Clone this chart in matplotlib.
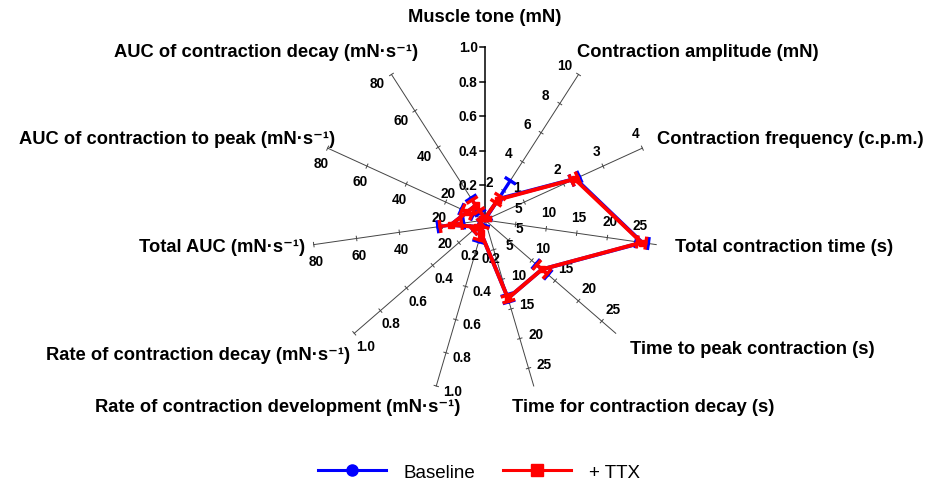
import numpy as np
import matplotlib
matplotlib.use("Agg")
import matplotlib.pyplot as plt
from matplotlib.lines import Line2D

plt.rcParams['font.family'] = ['Liberation Sans', 'DejaVu Sans']

# ---- data ----
categories = [
    "Muscle tone (mN)",
    "Contraction amplitude (mN)",
    "Contraction frequency (c.p.m.)",
    "Total contraction time (s)",
    "Time to peak contraction (s)",
    "Time for contraction decay (s)",
    "Rate of contraction development (mN\u00b7s\u207b\u00b9)",
    "Rate of contraction decay (mN\u00b7s\u207b\u00b9)",
    "Total AUC (mN\u00b7s\u207b\u00b9)",
    "AUC of contraction to peak (mN\u00b7s\u207b\u00b9)",
    "AUC of contraction decay (mN\u00b7s\u207b\u00b9)",
]
axis_max = [1.0, 10, 4, 28, 28, 28, 1.0, 1.0, 80, 80, 80]
axis_ticks = [
    [0.2, 0.4, 0.6, 0.8, 1.0],
    [2, 4, 6, 8, 10],
    [1, 2, 3, 4],
    [5, 10, 15, 20, 25],
    [5, 10, 15, 20, 25],
    [5, 10, 15, 20, 25],
    [0.2, 0.4, 0.6, 0.8, 1.0],
    [0.2, 0.4, 0.6, 0.8, 1.0],
    [20, 40, 60, 80],
    [20, 40, 60, 80],
    [20, 40, 60, 80],
]
baseline_mean = [0.01, 1.45, 2.3, 25.7, 12.2, 13.2, 0.08, 0.06, 16, 9, 8]
baseline_err = [0.01, 1.25, 0.1, 1.0, 1.3, 0.6, 0.05, 0.03, 6, 3, 4]
ttx_mean = [0.01, 1.4, 2.28, 25.6, 12.2, 13.2, 0.08, 0.06, 16, 9, 8]
ttx_err = [0.01, 0.22, 0.08, 0.7, 1.1, 0.5, 0.04, 0.03, 5, 2.5, 3]

# ---- layout: 1 data unit = axis length (173 px), centre at (485, 221) px ----
W, H = 926, 485
CX, CY, L = 485, 221, 173.0


def px(x, y):
    return (x - CX) / L, (CY - y) / L


# category label anchors in pixels (x, y, ha)
label_pos = [
    (485, 17, 'center'),
    (577, 52, 'left'),
    (657, 140, 'left'),
    (675, 247, 'left'),
    (630, 350, 'left'),
    (512, 408, 'left'),
    (460, 408, 'right'),
    (350, 355, 'right'),
    (305, 247, 'right'),
    (335, 139, 'right'),
    (418, 52, 'right'),
]

n = len(categories)
theta = np.deg2rad(90 - np.arange(n) * 360.0 / n)
ux, uy = np.cos(theta), np.sin(theta)
pxv, pyv = -np.sin(theta), np.cos(theta)

fig = plt.figure(figsize=(W / 100, H / 100), dpi=100)
ax = fig.add_axes([0, 0, 1, 1])
x0, y1 = px(0, 0)
x1, y0 = px(W, H)
ax.set_xlim(x0, x1)
ax.set_ylim(y0, y1)
ax.set_aspect('equal')
ax.axis('off')

# spokes, ticks, tick labels
for k in range(n):
    if k == 0:
        ax.plot([0, 0], [0, 1], color='black', lw=1.1, zorder=1)
    else:
        ax.plot([0, ux[k]], [0, uy[k]], color='#444444', lw=0.7, zorder=1)
    for t in axis_ticks[k]:
        r = t / axis_max[k]
        bx, by = r * ux[k], r * uy[k]
        if k == 0:
            ax.plot([bx, bx - 0.028], [by, by], color='black', lw=1.1, zorder=1)
        else:
            h = 0.013
            ax.plot([bx - h * pxv[k], bx + h * pxv[k]],
                    [by - h * pyv[k], by + h * pyv[k]],
                    color='#444444', lw=0.7, zorder=1)
        txt = f"{t:.1f}" if axis_max[k] <= 1 else f"{t:g}"
        ax.annotate(txt, (bx, by), xytext=(12 * pxv[k], 12 * pyv[k]),
                    textcoords='offset points', ha='center', va='center',
                    fontsize=9.8, fontweight='bold', zorder=2)

# category labels
for k, (lx, ly, ha) in enumerate(label_pos):
    tx, ty = px(lx, ly)
    ax.text(tx, ty, categories[k], ha=ha, va='center', fontsize=13.2,
            fontweight='bold')


def draw_series(mean, err, color, marker, z):
    r = np.array(mean) / np.array(axis_max)
    e = np.array(err) / np.array(axis_max)
    xs, ys = r * ux, r * uy
    ax.plot(np.append(xs, xs[0]), np.append(ys, ys[0]), color=color, lw=2.8,
            marker=marker, ms=4, zorder=z)
    c = 0.028
    for k in range(n):
        lo, hi = max(r[k] - e[k], 0), r[k] + e[k]
        ax.plot([lo * ux[k], hi * ux[k]], [lo * uy[k], hi * uy[k]],
                color=color, lw=2.4, zorder=z)
        for rr in (lo, hi):
            cx, cy = rr * ux[k], rr * uy[k]
            ax.plot([cx - c * pxv[k], cx + c * pxv[k]],
                    [cy - c * pyv[k], cy + c * pyv[k]],
                    color=color, lw=2.4, zorder=z)


draw_series(baseline_mean, baseline_err, '#0000FF', 'o', 3)
draw_series(ttx_mean, ttx_err, '#FF0000', 's', 4)

handles = [
    Line2D([], [], color='#0000FF', lw=2.2, marker='o', ms=8),
    Line2D([], [], color='#FF0000', lw=2.2, marker='s', ms=8),
]
fig.legend(handles, ['Baseline', '+ TTX'], loc='center',
           bbox_to_anchor=(479 / W, 1 - 473 / H), ncol=2, frameon=False,
           fontsize=13.5, handlelength=3.6, handletextpad=0.95,
           columnspacing=1.5, borderpad=0)

fig.savefig('out.png', dpi=100)
